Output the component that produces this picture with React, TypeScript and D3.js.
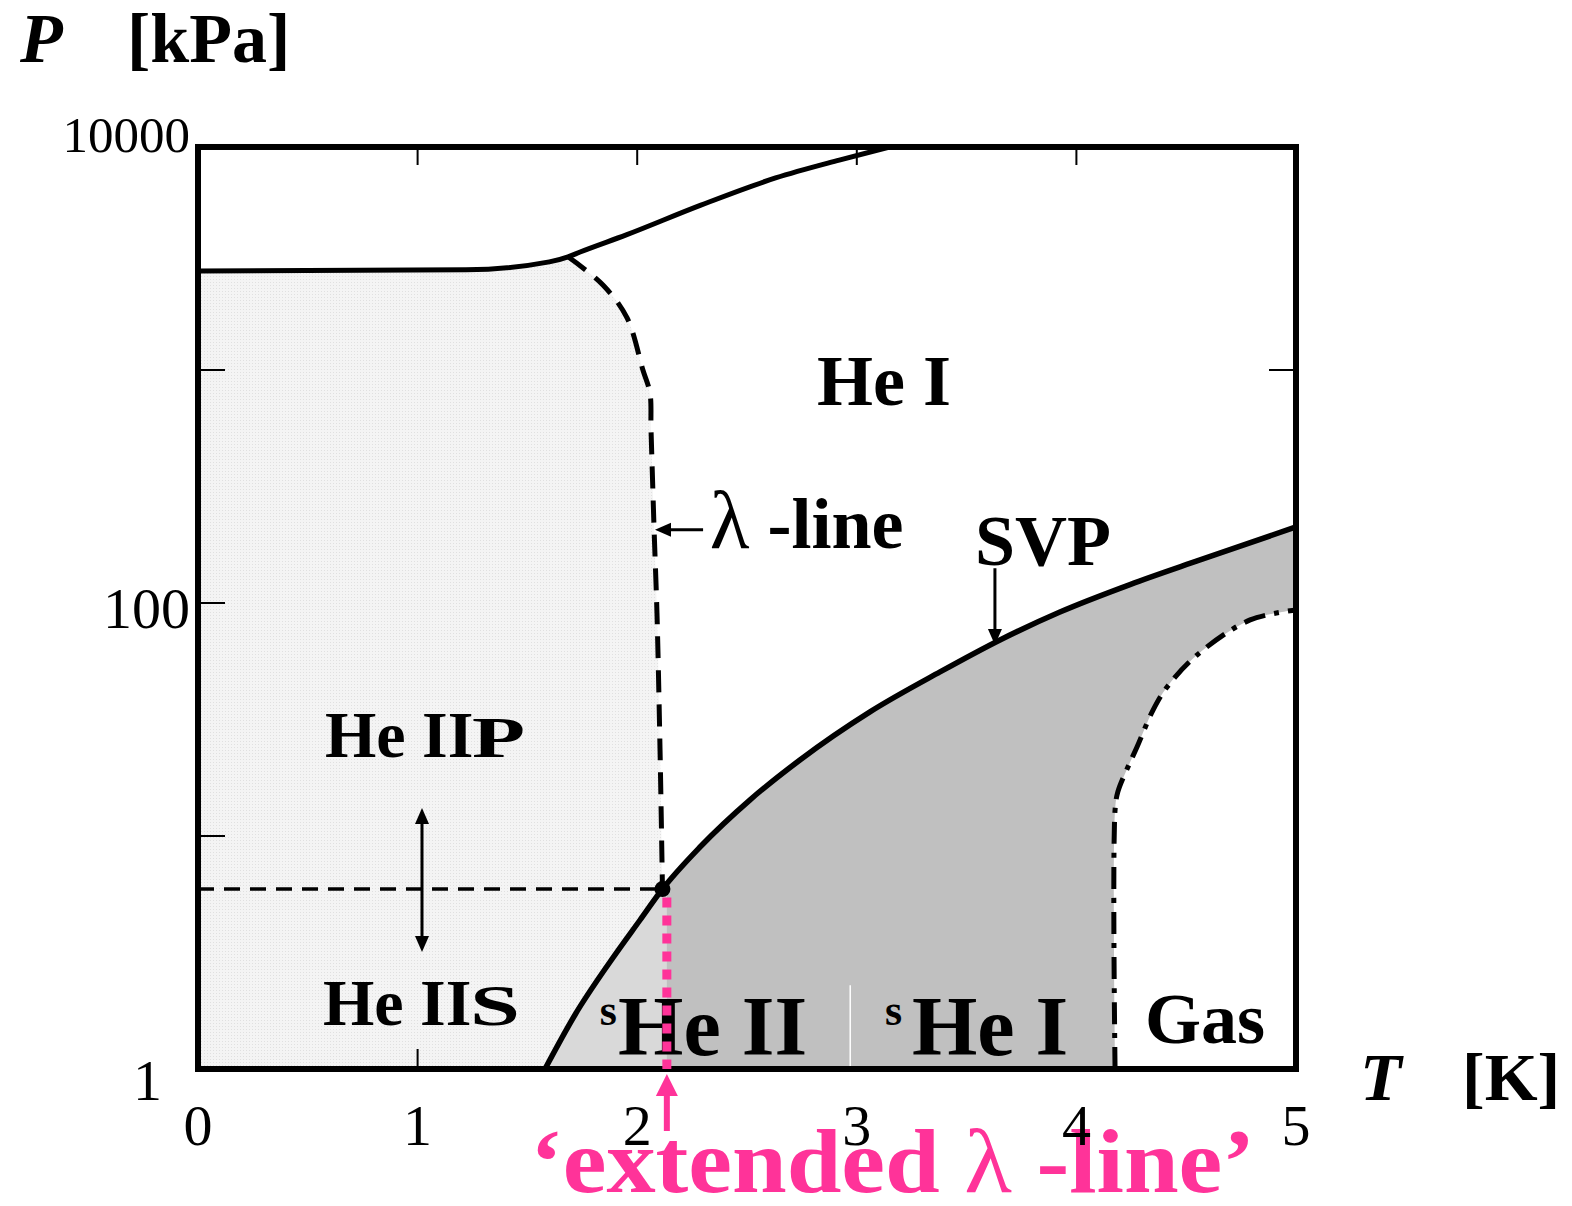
import React from 'react';
import * as d3 from 'd3';

// Axis ticks
const T_TICKS = [0, 1, 2, 3, 4, 5];
const T_TICK_MARKS = [1, 2, 3, 4];
const P_TICK_MARKS = [10, 100, 1000];
const P_TICK_LABELS = [1, 100, 10000];
const P_FRAME_TOP = 9060;

// Melting curve (solid line at the top)
const MELT_T = [0, 1.22, 1.6, 1.685, 1.74, 1.95, 2.29, 2.63, 2.92, 3.15];
const MELT_P = [2660, 2690, 2910, 3060, 3210, 3800, 5100, 6670, 7960, 9060];

// Lambda line (dashed), from the melting curve down to the lambda point
const LAMBDA_T = [1.685, 1.844, 1.954, 2.026, 2.058, 2.063, 2.077, 2.09, 2.104, 2.115];
const LAMBDA_P = [3060, 2317, 1672, 1000, 797, 552, 206, 90.6, 23.4, 5.92];

// Saturated vapour pressure curve
const SVP_T = [1.58, 1.717, 1.876, 2.013, 2.115, 2.286, 2.514, 2.741, 3.06, 3.379, 3.652, 3.925, 4.244, 4.563, 5.0];
const SVP_P = [1, 1.71, 2.88, 4.36, 5.92, 8.97, 14.3, 21.2, 34.1, 50.6, 69.4, 91.5, 120, 153, 212];

// Boundary of the gas region (dash-dot)
const GAS_T = [4.176, 4.176, 4.189, 4.235, 4.276, 4.349, 4.413, 4.549, 4.791, 5.0];
const GAS_P = [1, 12.9, 15.5, 19.8, 24.1, 34.7, 43.6, 59.8, 84.6, 93.3];

// Extended lambda line temperature
const T_EXT = 2.135;

const FONT = '"Liberation Serif", "Times New Roman", Times, serif';
const PINK = '#ff3399';

function arrowHead(tx: number, ty: number, dx: number, dy: number, len: number, half: number) {
  const n = Math.hypot(dx, dy);
  const ux = dx / n, uy = dy / n;
  const bx = tx - ux * len, by = ty - uy * len;
  const px = -uy * half, py = ux * half;
  return `${tx},${ty} ${bx + px},${by + py} ${bx - px},${by - py}`;
}

export default function App() {
  const x = d3.scaleLinear().domain([0, 5]).range([198, 1296]);
  const y = d3.scaleLog().domain([1, 10000]).range([1069, 137]);

  const pts = (ts: number[], ps: number[]) => ts.map((t, i) => [x(t), y(ps[i])] as [number, number]);
  const cr = d3.curveCatmullRom.alpha(0.5);
  const mono = d3.curveMonotoneX;
  const line = (p: [number, number][], curve: any = cr) => d3.line().curve(curve)(p) as string;
  const cont = (s: string) => 'L' + s.slice(1);

  const meltPts = pts(MELT_T, MELT_P);
  const lambdaPts = pts(LAMBDA_T, LAMBDA_P);
  const svpPts = pts(SVP_T, SVP_P);
  const gasPts = pts(GAS_T, GAS_P);

  const meltPath = line(meltPts, mono);
  const lambdaPath = line(lambdaPts);
  const svpPath = line(svpPts, mono);
  const gasPath = line(gasPts);

  const jIdx = MELT_T.indexOf(LAMBDA_T[0]);
  const lpIdx = SVP_T.indexOf(LAMBDA_T[LAMBDA_T.length - 1]);
  const lambdaT = LAMBDA_T[LAMBDA_T.length - 1];
  const lambdaP = LAMBDA_P[LAMBDA_P.length - 1];

  const x0 = x(0), x5 = x(5), yB = y(1), yT = y(P_FRAME_TOP);

  const heIIRegion =
    `M${x0},${yB}L${x0},${y(MELT_P[0])}` +
    cont(line(meltPts.slice(0, jIdx + 1), mono)) +
    cont(lambdaPath) +
    cont(line(svpPts.slice(0, lpIdx + 1).reverse())) +
    'Z';

  const underSvp = svpPath + `L${x5},${yB}L${x(SVP_T[0])},${yB}Z`;
  const gasRegion = gasPath + `L${x5},${yB}Z`;

  const bold = { fontFamily: FONT, fontWeight: 700 as const };

  const xe = x(T_EXT);

  return (
    <svg width={1572} height={1206} style={{ position: 'absolute', left: 0, top: 0, background: '#fff' }}>
      <defs>
        <pattern id="stipple" width="3" height="3" patternUnits="userSpaceOnUse">
          <rect width="3" height="3" fill="#f4f4f4" />
          <rect width="1" height="1" fill="#e0e0e0" />
        </pattern>
        <clipPath id="clipExt">
          <rect x={x0} y={yT} width={xe - x0} height={yB - yT} />
        </clipPath>
      </defs>
      <rect width={1572} height={1206} fill="#fff" />

      {/* He II region */}
      <path d={heIIRegion} fill="url(#stipple)" />

      {/* inner tick marks */}
      {P_TICK_MARKS.map(p => (
        <g key={'pt' + p} stroke="#000" strokeWidth={2}>
          <line x1={x0} x2={x0 + 27} y1={y(p)} y2={y(p)} />
          <line x1={x5} x2={x5 - 27} y1={y(p)} y2={y(p)} />
        </g>
      ))}
      {T_TICK_MARKS.map(t => (
        <g key={'tt' + t} stroke="#000" strokeWidth={2}>
          <line x1={x(t)} x2={x(t)} y1={yT} y2={yT + 18} />
          <line x1={x(t)} x2={x(t)} y1={yB} y2={yB - 20} />
        </g>
      ))}

      {/* liquid below the vapour pressure curve */}
      <path d={underSvp} fill="#c0c0c0" />
      <path d={underSvp} fill="#d9d9d9" clipPath="url(#clipExt)" />
      <path d={gasRegion} fill="#fff" />
      <line x1={x(2.97)} x2={x(2.97)} y1={yB} y2={y(2.29)} stroke="#fff" strokeWidth={1.5} />

      {/* dashed pressure level of the lambda point */}
      <line x1={x0} x2={x(lambdaT)} y1={y(lambdaP)} y2={y(lambdaP)} stroke="#000" strokeWidth={3.5} strokeDasharray="16 10" />

      {/* phase boundaries */}
      <path d={lambdaPath} fill="none" stroke="#000" strokeWidth={5} strokeDasharray="22 12" />
      <path d={meltPath} fill="none" stroke="#000" strokeWidth={5} strokeLinejoin="round" />
      <path d={svpPath} fill="none" stroke="#000" strokeWidth={5.5} strokeLinejoin="round" />
      <path d={gasPath} fill="none" stroke="#000" strokeWidth={5} strokeDasharray="22 9 5 9" />
      <circle cx={x(lambdaT)} cy={y(lambdaP)} r={8} fill="#000" />

      {/* frame */}
      <rect x={x0} y={yT} width={x5 - x0} height={yB - yT} fill="none" stroke="#000" strokeWidth={6} />

      {/* region labels */}
      <text x={x(2.819)} y={y(708)} fontSize={72} {...bold}>He I</text>
      <text x={x(2.33)} y={y(172)} fontSize={72} {...bold}>
        <tspan fontWeight={400} fontSize={82}>λ</tspan>
        <tspan> -line</tspan>
      </text>
      <text x={x(3.538)} y={y(146)} fontSize={72} {...bold}>SVP</text>

      <text x={x(0.578)} y={y(21.8)} fontSize={66} {...bold}>He II</text>
      <text transform={`translate(${x(1.248)},${y(21.8)}) scale(1.55,1)`} fontSize={56} {...bold}>P</text>
      <text x={x(0.569)} y={y(1.545)} fontSize={66} {...bold}>He II</text>
      <text transform={`translate(${x(1.239)},${y(1.545)}) scale(1.55,1)`} fontSize={58} {...bold}>S</text>

      <text x={x(1.83)} y={y(1.545)} fontSize={44} {...bold}>s</text>
      <text x={x(1.913)} y={y(1.148)} fontSize={84} {...bold}>He II</text>
      <text x={x(3.128)} y={y(1.545)} fontSize={44} {...bold}>s</text>
      <text x={x(3.251)} y={y(1.148)} fontSize={84} {...bold}>He I</text>
      <text x={x(4.312)} y={y(1.293)} fontSize={72} {...bold}>Gas</text>

      {/* annotation arrows */}
      <g stroke="#000" strokeWidth={3}>
        <line x1={x(2.30)} x2={x(2.081) + 10} y1={y(206)} y2={y(206)} />
        <line x1={x(3.629)} x2={x(3.629)} y1={y(141)} y2={y(66) - 10} />
        <line x1={x(1.02)} x2={x(1.02)} y1={y(13.2) + 10} y2={y(3.18) - 10} />
      </g>
      <polygon points={arrowHead(x(2.081), y(206), -1, 0, 16, 7)} fill="#000" />
      <polygon points={arrowHead(x(3.629), y(66), 0, 1, 16, 7)} fill="#000" />
      <polygon points={arrowHead(x(1.02), y(13.2), 0, -1, 16, 7)} fill="#000" />
      <polygon points={arrowHead(x(1.02), y(3.18), 0, 1, 16, 7)} fill="#000" />

      {/* extended lambda line */}
      <line x1={xe} x2={xe} y1={y(5.45)} y2={yB} stroke={PINK} strokeWidth={9} strokeDasharray="10 8" />
      <line x1={xe} x2={xe} y1={yB + 62} y2={yB + 20} stroke={PINK} strokeWidth={6} />
      <polygon points={arrowHead(xe, yB + 5, 0, -1, 22, 11)} fill={PINK} />
      <text x={530} y={1192} fontSize={92} fill={PINK} textLength={725} lengthAdjust="spacingAndGlyphs" {...bold}>
        <tspan>{'\u2018extended  '}</tspan>
        <tspan fontWeight={400}>λ</tspan>
        <tspan>{' -line\u2019'}</tspan>
      </text>

      {/* tick labels */}
      {T_TICKS.map(t => (
        <text key={'tl' + t} x={x(t)} y={yB + 76} fontSize={58} textAnchor="middle" fontFamily={FONT}>{t}</text>
      ))}
      {P_TICK_LABELS.map(p => {
        const top = p === 10000;
        const bottom = p === 1;
        return (
          <text
            key={'pl' + p}
            x={bottom ? x0 - 36 : x0 - 8}
            y={y(p) + (top ? 15 : bottom ? 31 : 25)}
            fontSize={top ? 51 : 58}
            textAnchor="end"
            fontFamily={FONT}
          >
            {p}
          </text>
        );
      })}

      {/* axis titles */}
      <text x={20} y={62} fontSize={70} fontStyle="italic" {...bold}>P</text>
      <text x={127} y={62} fontSize={70} {...bold}>[kPa]</text>
      <text x={1360} y={1100} fontSize={68} fontStyle="italic" {...bold}>T</text>
      <text x={1462} y={1100} fontSize={68} {...bold}>[K]</text>
    </svg>
  );
}
